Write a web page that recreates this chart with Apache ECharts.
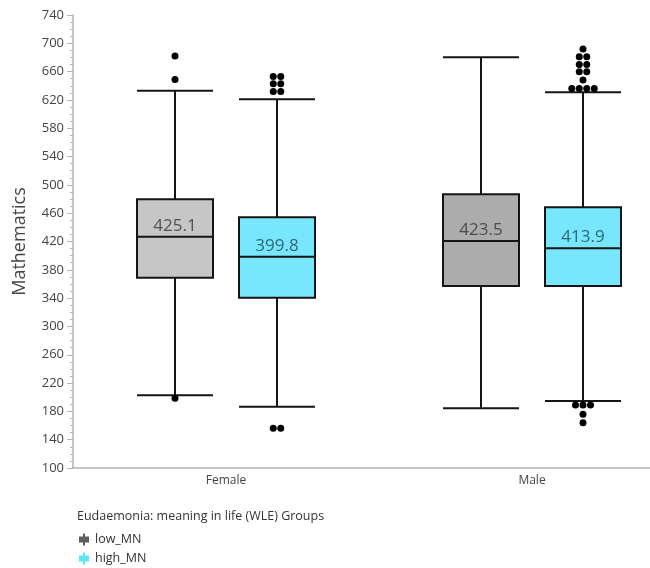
<!DOCTYPE html>
<html>
<head>
<meta charset="utf-8">
<script src="https://cdn.jsdelivr.net/npm/echarts@6/dist/echarts.min.js"></script>
<style>html,body{margin:0;padding:0;background:#fff}#c{width:650px;height:568px}</style>
</head>
<body>
<div id="c"></div>
<script>
// ---- data ----
const categories = ['Female', 'Male'];
const groupNames = ['low_MN', 'high_MN'];
const groupTitle = 'Eudaemonia: meaning in life (WLE) Groups';
const yTicks = [100, 740, 40];           // min, max, interval
// [min, Q1, median, Q3, max] per category
const lowMN  = [[202.7, 368.9, 426.8, 479.6, 633.0], [184.3, 357.1, 420.7, 486.7, 680.2]];
const highMN = [[186.6, 340.6, 398.5, 454.2, 620.9], [194.7, 357.1, 410.4, 468.3, 630.8]];
const lowLabels  = ['425.1', '423.5'];
const highLabels = ['399.8', '413.9'];
const lowOut  = [[682, 649, 198.5], []];
const highOut = [[653, 653, 643, 643, 632, 632, 156, 156],
                 [692, 681, 681, 670, 670, 660, 660, 648, 636, 636, 636, 636, 189, 189, 189, 176, 164]];

// ---- styling ----
const boxColors = [['#c6c6c6', '#acacac'], ['#78e6fc', '#78e6fc']];
const labelColors = ['#333333', '#1a4856'];
const legendColors = ['#5f5f5f', '#5fe6f6'];
const dotStep = 7.5;

const slotNames = ['', categories[0] + ' ' + groupNames[0], categories[0] + ' ' + groupNames[1], '',
                   categories[1] + ' ' + groupNames[0], categories[1] + ' ' + groupNames[1], ''];
const slot = (g, s) => 1 + g * 3 + s;

function boxData(arr, s) {
  return arr.map((v, g) => ({ value: [slot(g, s)].concat(v), itemStyle: { color: boxColors[s][g] } }));
}
function labelData(arr, labels, s) {
  return arr.map((v, g) => ({ value: [slot(g, s), v[2]], text: labels[g] }));
}
function outData(arr, s) {
  const res = [];
  arr.forEach((vals, g) => {
    const counts = {};
    vals.forEach(v => { counts[v] = (counts[v] || 0) + 1; });
    const seen = {};
    vals.forEach(v => {
      const n = counts[v];
      const i = seen[v] || 0; seen[v] = i + 1;
      res.push({ value: [slot(g, s), v], symbolOffset: [(i - (n - 1) / 2) * dotStep, 0] });
    });
  });
  return res;
}

const hiddenAxis = () => ({
  type: 'category', gridIndex: 0, data: slotNames, boundaryGap: false, show: false
});

const boxSeries = (name, arr, s, axis) => ({
  name: name, type: 'boxplot', xAxisIndex: axis, yAxisIndex: 0,
  encode: { x: 0, y: [1, 2, 3, 4, 5] },
  boxWidth: [76, 76],
  itemStyle: { color: boxColors[s][0], borderColor: '#151515', borderWidth: 2 },
  emphasis: { disabled: true },
  data: boxData(arr, s), z: 2
});

const labelSeries = (arr, labels, s) => ({
  type: 'scatter', xAxisIndex: 1, yAxisIndex: 0, symbolSize: 1,
  itemStyle: { color: 'rgba(0,0,0,0)' }, silent: true, z: 5,
  label: {
    show: true, position: 'top', distance: 2,
    formatter: p => p.data.text,
    fontSize: 17, fontFamily: 'Open Sans', color: labelColors[s]
  },
  data: labelData(arr, labels, s)
});

const outSeries = (arr, s) => ({
  type: 'scatter', xAxisIndex: 1, yAxisIndex: 0, symbol: 'circle', symbolSize: 7,
  itemStyle: { color: '#000', opacity: 1 }, silent: true, z: 4,
  data: outData(arr, s)
});

const iconPath = 'path://M5,0H7V3H11V9H7V12H5V9H1V3H5Z';

const chart = echarts.init(document.getElementById('c'), null, { renderer: 'canvas' });
chart.setOption({
  animation: false,
  backgroundColor: '#fff',
  textStyle: { fontFamily: 'Open Sans' },
  title: {
    text: groupTitle, left: 72, top: 505,
    textStyle: { fontSize: 12.5, fontWeight: 'normal', color: '#333', fontFamily: 'Open Sans' }
  },
  legend: {
    orient: 'vertical', left: 79, top: 533, padding: 0, itemWidth: 12, itemHeight: 12, itemGap: 6,
    icon: iconPath,
    itemStyle: { borderWidth: 0 },
    textStyle: { fontSize: 12.5, color: '#333', fontFamily: 'Open Sans' },
    data: groupNames.map((n, i) => ({ name: n, itemStyle: { color: legendColors[i], borderWidth: 0 } })),
    selectedMode: false
  },
  grid: { left: 73, right: -35, top: 15, bottom: 100, outerBoundsMode: 'none', containLabel: false },
  xAxis: [
    {
      type: 'category', gridIndex: 0, data: categories, boundaryGap: true,
      axisLine: { lineStyle: { color: '#b4b4b4', width: 1.5 } },
      axisTick: { show: false },
      axisLabel: { fontSize: 12, color: '#444', margin: 7, fontFamily: 'Open Sans' }
    },
    hiddenAxis(),
    hiddenAxis()
  ],
  yAxis: {
    type: 'value', min: yTicks[0], max: yTicks[1], interval: yTicks[2],
    name: 'Mathematics', nameLocation: 'middle', nameGap: 44, nameRotate: 90,
    nameTextStyle: { fontSize: 18, color: '#444', fontFamily: 'Open Sans' },
    axisLine: { show: true, lineStyle: { color: '#b4b4b4', width: 1.5 } },
    axisTick: { show: true, length: 6, lineStyle: { color: '#b4b4b4' } },
    minorTick: { show: true, splitNumber: 4, length: 3, lineStyle: { color: '#b4b4b4' } },
    splitLine: { show: false },
    axisLabel: { fontSize: 13, color: '#444', margin: 9, fontFamily: 'Open Sans' }
  },
  series: [
    boxSeries(groupNames[0], lowMN, 0, 1),
    boxSeries(groupNames[1], highMN, 1, 2),
    outSeries(lowOut, 0),
    outSeries(highOut, 1),
    labelSeries(lowMN, lowLabels, 0),
    labelSeries(highMN, highLabels, 1)
  ]
});
</script>
</body>
</html>
